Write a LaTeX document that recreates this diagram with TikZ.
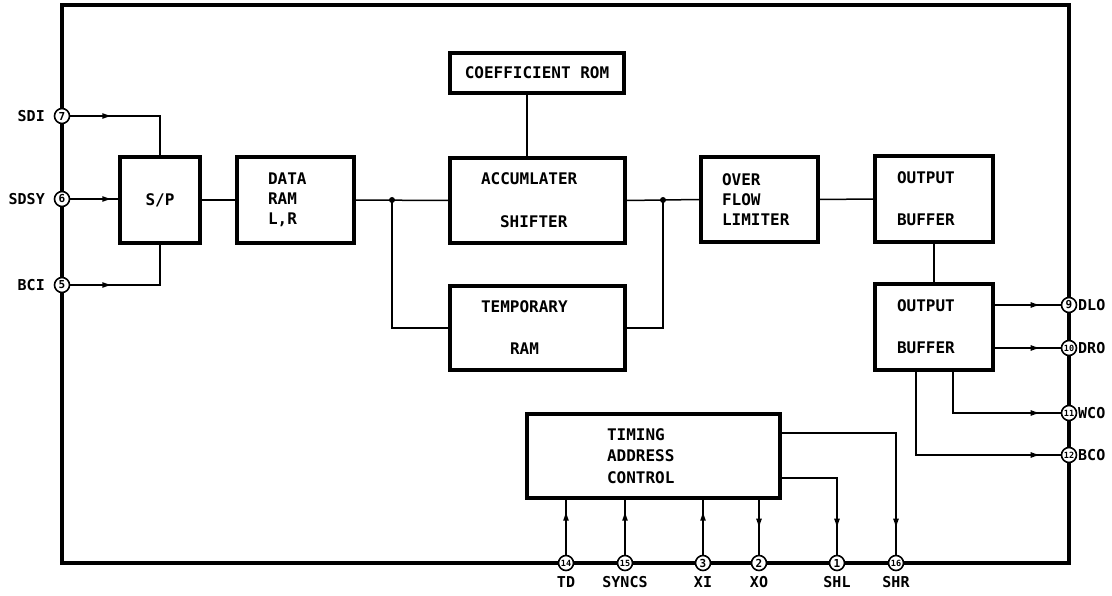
\documentclass[tikz,border=0pt]{standalone}
\usepackage{fontspec}
\setmonofont{DejaVu Sans Mono}
\usetikzlibrary{arrows.meta,decorations.markings}
\newcommand\boxfnt{\fontsize{16}{20}\selectfont\ttfamily\bfseries}
\newcommand\labfnt{\fontsize{15}{18}\selectfont\ttfamily\bfseries}
\newcommand\pinfnt{\fontsize{11}{11}\selectfont\ttfamily\bfseries}
\newcommand\pinsm{\fontsize{8.5}{8.5}\selectfont}
\begin{document}
\begin{tikzpicture}[x=1pt,y=-1pt,
  box/.style={draw,line width=3.2pt,inner sep=0pt,font=\boxfnt},
  wire/.style={line width=1.5pt},
  pin/.style={circle,draw,fill=white,line width=1.6pt,minimum size=15pt,inner sep=0pt,font=\pinfnt},
  lbl/.style={font=\labfnt,inner sep=0pt},
  tipat/.style={postaction={decorate},decoration={markings,mark=at position #1 with {\arrow{Latex[length=10pt,width=6pt]}}}}]
\useasboundingbox (0,0) rectangle (1112,596);
% frame
\draw[line width=3.6pt] (62,5) rectangle (1069,563);
% boxes
\node[box,minimum width=174pt,minimum height=40pt] (rom) at (537,73) {COEFFICIENT ROM};
\node[box,minimum width=80pt,minimum height=86pt] (sp) at (160,200) {S/P};
\node[box,minimum width=117pt,minimum height=86pt,align=left,text width=55pt] (dram) at (295.5,200) {DATA\\RAM\\L,R};
\node[box,minimum width=175pt,minimum height=85pt,align=left,text width=113pt] (acc) at (537.5,200.5) {ACCUMLATER\\[23pt]\hspace*{19pt}SHIFTER};
\node[box,minimum width=175pt,minimum height=84pt,align=left,text width=113pt] (tmp) at (537.5,328) {TEMPORARY\\[22pt]\hspace*{29pt}RAM};
\node[box,minimum width=117pt,minimum height=85pt,align=left,text width=75pt] (ofl) at (759.5,199.5) {OVER\\FLOW\\LIMITER};
\node[box,minimum width=118pt,minimum height=86pt,align=left,text width=74pt] (ob1) at (934,199) {OUTPUT\\[22pt]BUFFER};
\node[box,minimum width=118pt,minimum height=86pt,align=left,text width=74pt] (ob2) at (934,327) {OUTPUT\\[22pt]BUFFER};
\node[box,minimum width=253pt,minimum height=84pt,align=left,text width=93pt] (tim) at (653.5,456) {TIMING\\[1.5pt]ADDRESS\\[1.5pt]CONTROL};
% pins
\node[pin] (p7) at (62,116) {7};
\node[pin] (p6) at (62,199) {6};
\node[pin] (p5) at (62,285) {5};
\node[pin] (p9) at (1069,305) {9};
\node[pin] (p10) at (1069,348) {\pinsm 10};
\node[pin] (p11) at (1069,413) {\pinsm 11};
\node[pin] (p12) at (1069,455) {\pinsm 12};
\node[pin] (p14) at (566,563) {\pinsm 14};
\node[pin] (p15) at (625,563) {\pinsm 15};
\node[pin] (p3) at (703,563) {3};
\node[pin] (p2) at (759,563) {2};
\node[pin] (p1) at (837,563) {1};
\node[pin] (p16) at (896,563) {\pinsm 16};
% pin labels
\node[lbl,anchor=east] (lsdi) at (45,116) {SDI};
\node[lbl,anchor=east] (lsdsy) at (45,199) {SDSY};
\node[lbl,anchor=east] (lbci) at (45,285) {BCI};
\node[lbl,anchor=west] (ldlo) at (1078,305) {DLO};
\node[lbl,anchor=west] (ldro) at (1078,348) {DRO};
\node[lbl,anchor=west] (lwco) at (1078,413) {WCO};
\node[lbl,anchor=west] (lbco) at (1078,455) {BCO};
\node[lbl,anchor=north] (ltd) at (566,576) {TD};
\node[lbl,anchor=north] (lsyncs) at (625,576) {SYNCS};
\node[lbl,anchor=north] (lxi) at (703,576) {XI};
\node[lbl,anchor=north] (lxo) at (759,576) {XO};
\node[lbl,anchor=north] (lshl) at (837,576) {SHL};
\node[lbl,anchor=north] (lshr) at (896,576) {SHR};
% helper coordinates
\coordinate (j1) at (392,200);
\coordinate (j2) at (663,200);
\coordinate (rc) at (527,0);
\coordinate (wc) at (953,0);
\coordinate (bc) at (916,0);
% inputs
\draw[wire,tipat=42pt] (p7) -| (sp.north);
\draw[wire,tipat=42pt] (p6) -- (p6 -| sp.west);
\draw[wire,tipat=42pt] (p5) -| (sp.south);
% internal
\draw[wire] (sp.east) -- (dram.west);
\draw[wire] (dram.east) -- (acc.west);
\draw[wire] (j1) |- (tmp.west);
\draw[wire] (tmp.east) -| (j2);
\draw[wire] (acc.east) -- (ofl.west);
\fill (j1) circle (3pt);
\fill (j2) circle (3pt);
\draw[wire] (rom.south -| rc) -- (acc.north -| rc);
\draw[wire] (ofl.east) -- (ob1.west);
\draw[wire] (ob1.south) -- (ob2.north);
% outputs
\draw[wire,tipat=-20pt] (ob2.east |- p9) -- (p9);
\draw[wire,tipat=-20pt] (ob2.east |- p10) -- (p10);
\draw[wire,tipat=-20pt] (ob2.south -| wc) |- (p11);
\draw[wire,tipat=-20pt] (ob2.south -| bc) |- (p12);
% timing
\draw[wire,tipat=44pt] (p14) -- (tim.south -| p14);
\draw[wire,tipat=44pt] (p15) -- (tim.south -| p15);
\draw[wire,tipat=44pt] (p3) -- (tim.south -| p3);
\draw[wire,tipat=-26pt] (tim.south -| p2) -- (p2);
\draw[wire,tipat=-26pt] ([yshift=-22pt]tim.east) -| (p1);
\draw[wire,tipat=-26pt] ([yshift=23pt]tim.east) -| (p16);
\end{tikzpicture}
\end{document}
